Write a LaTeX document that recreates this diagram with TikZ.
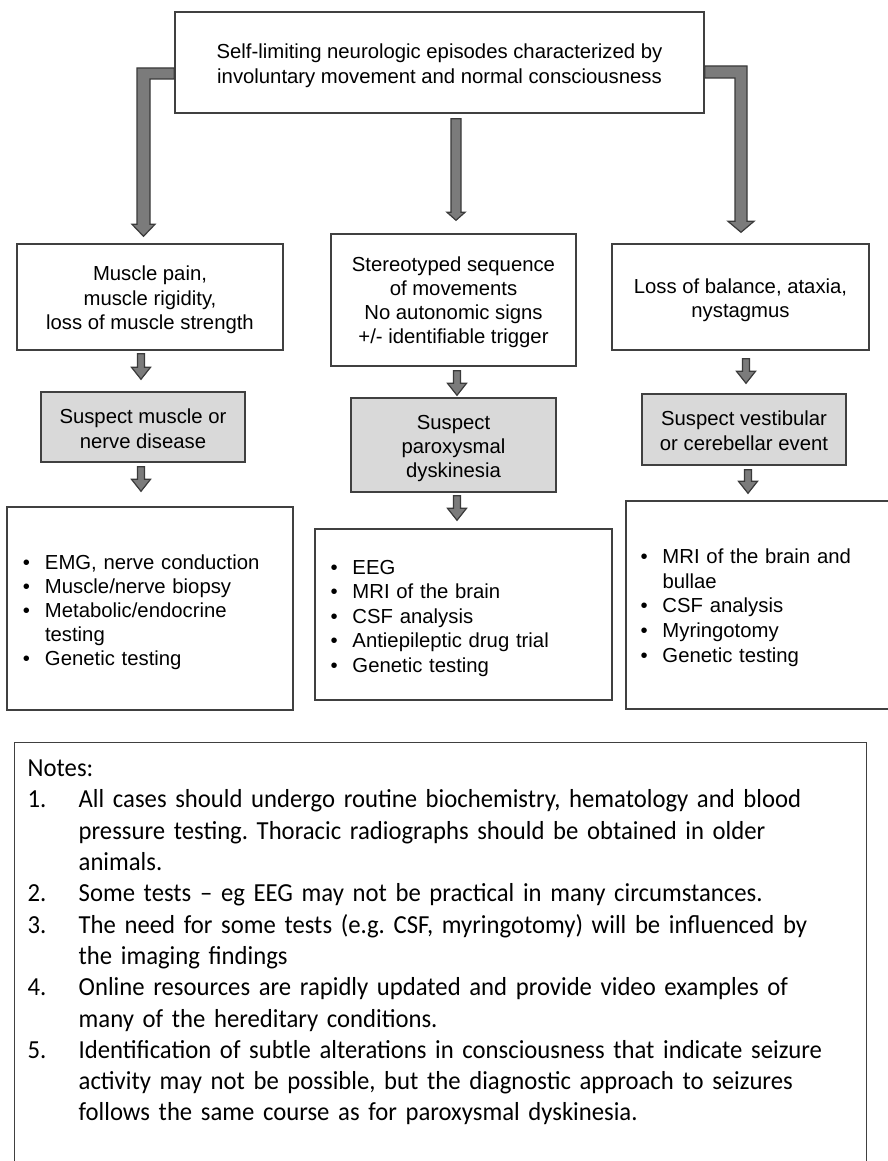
\documentclass[tikz,border=0pt]{standalone}
\usepackage{fontspec}
\setmainfont{Liberation Sans}
\newfontfamily\notesfont[FakeStretch=0.95]{Carlito}
\usetikzlibrary{calc}
\frenchspacing
\definecolor{edge}{HTML}{404040}
\definecolor{lightfill}{HTML}{D9D9D9}
\definecolor{arrfill}{HTML}{7B7B7B}
\definecolor{arredge}{HTML}{3A3A3A}
\tikzset{
  box/.style={draw=edge, line width=1.4pt, fill=white, inner sep=0pt, align=center,
    font=\fontsize{20.3}{24.5}\selectfont},
  greybox/.style={box, fill=lightfill},
  listbox/.style={box, align=left, inner ysep=0pt},
  blk/.style={fill=arrfill, draw=arredge, line width=1.2pt, line join=miter},
}
% centred lines, lowered a little without changing the box size
\newcommand{\ctext}[2][3.5pt]{\raisebox{-#1}[\height][\depth]{\begin{tabular}{@{}c@{}}#2\end{tabular}}}
% bullet list, lowered a little
\newcommand{\blist}[2][4pt]{\raisebox{-#1}[\height][\depth]{\begin{tabular}{@{}p{22pt}@{}l@{}}#2\end{tabular}}}
\newcommand{\blkdown}[6]{%
  \draw[blk] let \p1=#2, \p2=#3 in
    (#1-#4,\y1) -- (#1+#4,\y1) -- (#1+#4,\y2+#6) -- (#1+#5,\y2+#6) -- (#1,\y2)
    -- (#1-#5,\y2+#6) -- (#1-#4,\y2+#6) -- cycle;}
\begin{document}
\begin{tikzpicture}[x=1pt,y=1pt]
\useasboundingbox (0,0) rectangle (888,-1161);
\clip (0,0) rectangle (888,-1161);
\fill[white] (0,0) rectangle (888,-1161);

% top box
\node[box, minimum width=529pt, minimum height=101pt, font=\fontsize{20.3}{25}\selectfont]
  (T) at (439.5,-62.5) {\ctext{Self-limiting neurologic episodes characterized by\\involuntary movement and normal consciousness}};

% row 2
\node[box, minimum width=266pt, minimum height=106pt] (L2) at (150,-297)
  {\ctext{Muscle pain,\\muscle rigidity,\\loss of muscle strength}};
\node[box, minimum width=245pt, minimum height=132pt, font=\fontsize{20.3}{24}\selectfont] (M2) at (453.5,-300)
  {\ctext[3pt]{Stereotyped sequence\\of movements\\No autonomic signs\\+/- identifiable trigger}};
\node[box, minimum width=257pt, minimum height=106pt] (R2) at (740.5,-297)
  {\ctext{Loss of balance, ataxia,\\nystagmus}};

% row 3
\node[greybox, minimum width=204pt, minimum height=70pt] (L3) at (143,-427)
  {\ctext[4pt]{Suspect muscle or\\nerve disease}};
\node[greybox, minimum width=205pt, minimum height=94pt, font=\fontsize{20.3}{24}\selectfont] (M3) at (453.5,-445)
  {\ctext{Suspect\\paroxysmal\\dyskinesia}};
\node[greybox, minimum width=204pt, minimum height=71pt, font=\fontsize{20.3}{25}\selectfont] (R3) at (744,-429.5)
  {\ctext[3pt]{Suspect vestibular\\or cerebellar event}};

% row 4
\node[listbox, minimum height=203pt, text width=254pt, inner xsep=16pt, font=\fontsize{20.3}{24}\selectfont] (L4) at (150,-608.5)
  {\blist{
   \textbullet & EMG, nerve conduction\\
   \textbullet & Muscle/nerve biopsy\\
   \textbullet & Metabolic/endocrine\\
               & testing\\
   \textbullet & Genetic testing}};
\node[listbox, minimum height=171pt, text width=266pt, inner xsep=15.5pt] (M4) at (463.5,-614.5)
  {\blist{
   \textbullet & EEG\\
   \textbullet & MRI of the brain\\
   \textbullet & CSF analysis\\
   \textbullet & Antiepileptic drug trial\\
   \textbullet & Genetic testing}};
\node[listbox, minimum height=208pt, text width=245pt, inner xsep=14.5pt, font=\fontsize{20.3}{24.75}\selectfont] (R4) at (763,-605)
  {\blist[3pt]{
   \textbullet & MRI of the brain and\\
               & bullae\\
   \textbullet & CSF analysis\\
   \textbullet & Myringotomy\\
   \textbullet & Genetic testing}};

% notes
\node[draw=edge, line width=1.4pt, fill=white, anchor=north west, align=left,
  inner xsep=13pt, inner ysep=12pt, text width=826pt,
  font=\notesfont\fontsize{26}{31.3}\selectfont] (N) at (14,-742)
  {\begin{tabular}{@{}p{51pt}@{}l@{}}
   \multicolumn{2}{@{}l@{}}{Notes:}\\
   1. & All cases should undergo routine biochemistry, hematology and blood\\
      & pressure testing. Thoracic radiographs should be obtained in older\\
      & animals.\\
   2. & Some tests – eg EEG may not be practical in many circumstances.\\
   3. & The need for some tests (e.g. CSF, myringotomy) will be influenced by\\
      & the imaging findings\\
   4. & Online resources are rapidly updated and provide video examples of\\
      & many of the hereditary conditions.\\
   5. & Identification of subtle alterations in consciousness that indicate seizure\\
      & activity may not be possible, but the diagnostic approach to seizures\\
      & follows the same course as for paroxysmal dyskinesia.\\[60pt]
   \end{tabular}};

% elbow arrows from the top box
\draw[blk] let \p1=(T.west), \p2=($(L2.north)+(0,7)$) in
  (\x1,-68) -- (137,-68) -- (137,\y2+12) -- (132,\y2+12) -- (143.5,\y2)
  -- (155,\y2+12) -- (150,\y2+12) -- (150,-79) -- (\x1,-79) -- cycle;
\draw[blk] let \p1=(T.east), \p2=($(R2.north)+(0,11)$) in
  (\x1,-66) -- (747,-66) -- (747,\y2+11) -- (754,\y2+11) -- (741,\y2)
  -- (728,\y2+11) -- (735,\y2+11) -- (735,-78) -- (\x1,-78) -- cycle;
\blkdown{456}{($(T.south)+(0,-5)$)}{($(M2.north)+(0,13)$)}{5}{9}{8}

% small arrows
\blkdown{141}{($(L2.south)+(0,-3)$)}{($(L3.north)+(0,12)$)}{3.5}{9.5}{12}
\blkdown{141}{($(L3.south)+(0,-4)$)}{($(L4.north)+(0,15)$)}{3.5}{9.5}{12}
\blkdown{457}{($(M2.south)+(0,-4)$)}{($(M3.north)+(0,2)$)}{3.5}{9.5}{12}
\blkdown{457}{($(M3.south)+(0,-3)$)}{($(M4.north)+(0,8)$)}{3.5}{9.5}{12}
\blkdown{746}{($(R2.south)+(0,-8)$)}{($(R3.north)+(0,10)$)}{3.5}{9.5}{12}
\blkdown{748}{($(R3.south)+(0,-4)$)}{($(R4.north)+(0,7)$)}{3.5}{9.5}{12}
\end{tikzpicture}
\end{document}
